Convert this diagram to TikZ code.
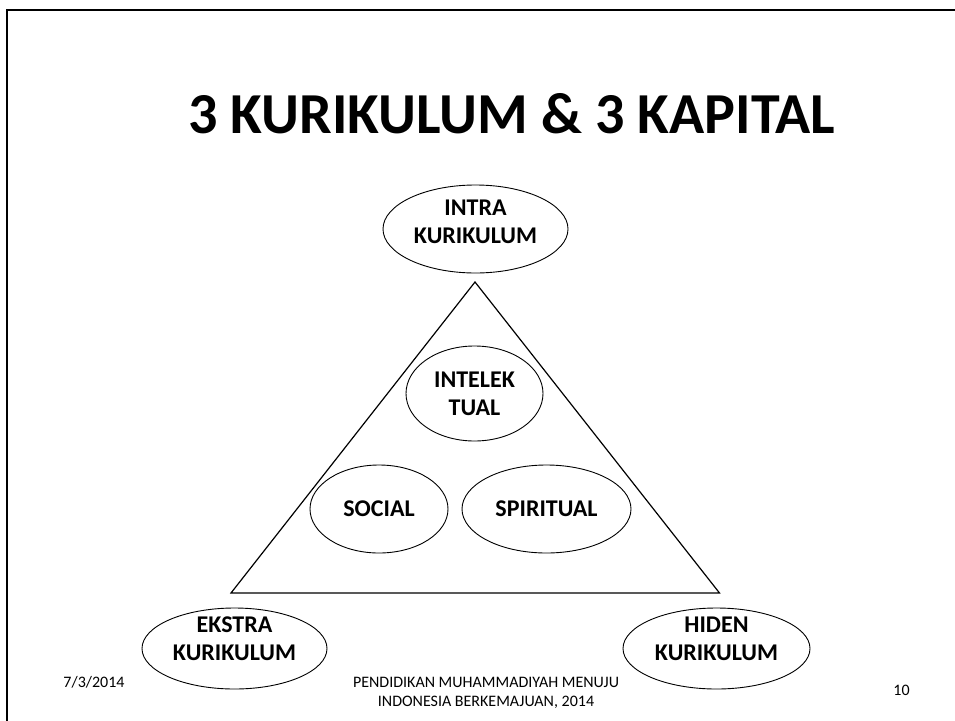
\documentclass[tikz,border=0pt]{standalone}
\usepackage{fontspec}
\setmainfont{Carlito}
\usepackage{tikz}
\usetikzlibrary{shapes.geometric}
\tikzset{
  kurikulum/.style={
    ellipse,
    draw=black, line width=0.9pt,
    inner sep=0pt,
    align=center,
    font=\bfseries\fontsize{24}{28}\selectfont,
  },
  labeltext/.style={
    align=center,
    font=\bfseries\fontsize{24}{28}\selectfont,
  },
  footer/.style={
    align=center,
    font=\fontsize{16}{19}\selectfont,
  },
}

\begin{document}
\begin{tikzpicture}[x=1pt,y=-1pt]
    \useasboundingbox (0,0) rectangle (955,720);
    % slide frame
    \draw[line width=2.5pt] (7,730) -- (7,10) -- (965,10);

    \node[font=\bfseries\fontsize{58}{68}\selectfont, anchor=base] (title) at (511.5,133)
    {3 KURIKULUM \& 3 KAPITAL};

    % triangle
    \coordinate (apex) at (475,282);
    \coordinate (baseL) at (231,593);
    \coordinate (baseR) at (719.5,593);
    \draw[line width=1.2pt] (apex) -- (baseL) -- (baseR) -- cycle;

    % the three kurikulum
    \node[kurikulum, minimum width=185pt, minimum height=88pt,
      label={[labeltext, yshift=7pt]center:INTRA\\KURIKULUM}] (intra) at (475.5,229) {};
    \node[kurikulum, minimum width=185pt, minimum height=81pt,
      label={[labeltext, yshift=10pt]center:EKSTRA\\KURIKULUM}] (ekstra) at (234.5,648.5) {};
    \node[kurikulum, minimum width=187pt, minimum height=81pt,
      label={[labeltext, yshift=10pt]center:HIDEN\\KURIKULUM}] (hiden) at (716.5,648.5) {};

    % the three kapital
    \node[kurikulum, minimum width=137pt, minimum height=95pt] (intelek) at (474.5,393.5)
    {INTELEK\\TUAL};
    \node[kurikulum, minimum width=138pt, minimum height=88pt] (social) at (379,509)
    {SOCIAL};
    \node[kurikulum, minimum width=169pt, minimum height=88pt] (spiritual) at (546.5,509)
    {SPIRITUAL};

    % footer
    \node[footer] (date) at (94,682) {7/3/2014};
    \node[footer] (foot) at (486,692.5) {PENDIDIKAN MUHAMMADIYAH MENUJU\\INDONESIA BERKEMAJUAN, 2014};
    \node[footer] (page) at (901.5,690.5) {10};
\end{tikzpicture}
\end{document}
